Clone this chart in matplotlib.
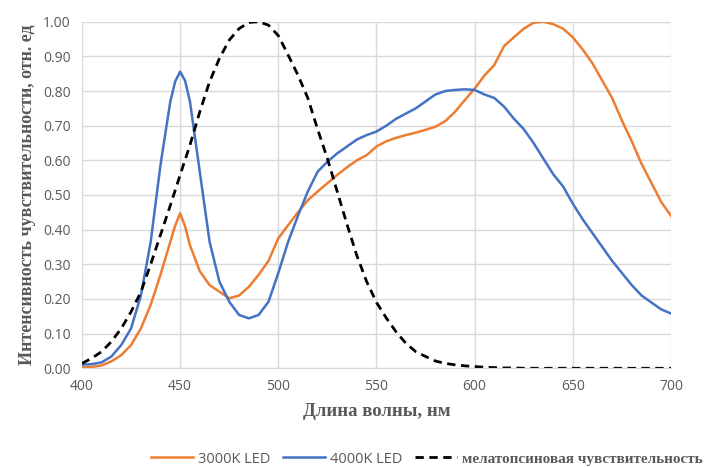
import matplotlib.pyplot as plt

# wavelength grid, nm (extra points around the 450 nm peak)
wavelength = (list(range(400, 450, 5)) + [447.5, 450, 452.5]
              + list(range(455, 705, 5)))
wavelength = sorted(wavelength)

# 3000K LED spectrum (relative)
led_3000k = [
    0.002, 0.004, 0.008, 0.02, 0.038, 0.067, 0.115, 0.183, 0.27, 0.365,
    0.412, 0.447, 0.41, 0.355, 0.28, 0.24, 0.221, 0.202, 0.21, 0.235, 0.27, 0.31,
    0.375, 0.413, 0.45, 0.485, 0.51, 0.534, 0.558, 0.58, 0.60, 0.615,
    0.64, 0.655, 0.665, 0.673, 0.68, 0.688, 0.697, 0.713, 0.74, 0.774,
    0.807, 0.845, 0.875, 0.93, 0.955, 0.98, 0.997, 1.0, 0.993, 0.98,
    0.955, 0.92, 0.88, 0.83, 0.78, 0.715, 0.655, 0.59, 0.535, 0.48,
    0.44,
]

# 4000K LED spectrum (relative)
led_4000k = [
    0.01, 0.012, 0.017, 0.034, 0.067, 0.115, 0.21, 0.365, 0.587, 0.77,
    0.828, 0.856, 0.83, 0.77, 0.567, 0.365, 0.25, 0.192, 0.154, 0.144, 0.154, 0.192,
    0.275, 0.365, 0.44, 0.51, 0.567, 0.596, 0.62, 0.64, 0.66, 0.673,
    0.683, 0.70, 0.72, 0.735, 0.75, 0.77, 0.79, 0.80, 0.803, 0.805,
    0.803, 0.79, 0.78, 0.755, 0.72, 0.69, 0.65, 0.605, 0.56, 0.525,
    0.475, 0.43, 0.39, 0.35, 0.31, 0.275, 0.24, 0.21, 0.19, 0.17,
    0.158,
]

# melanopsin sensitivity (relative)
melanopsin = [
    0.014, 0.029, 0.048, 0.077, 0.115, 0.163, 0.22, 0.30, 0.385, 0.47,
    0.514, 0.558, 0.601, 0.644, 0.74, 0.827, 0.894, 0.947, 0.98, 0.998, 1.0, 0.99,
    0.96, 0.904, 0.846, 0.78, 0.69, 0.605, 0.51, 0.415, 0.325, 0.25,
    0.19, 0.145, 0.105, 0.072, 0.048, 0.034, 0.021, 0.014, 0.01, 0.007,
    0.005, 0.003, 0.002, 0.001, 0.001, 0.0, 0.0, 0.0, 0.0, 0.0,
    0.0, 0.0, 0.0, 0.0, 0.0, 0.0, 0.0, 0.0, 0.0, 0.0,
    0.0,
]

x_ticks = [400, 450, 500, 550, 600, 650, 700]
y_ticks = [0.0, 0.1, 0.2, 0.3, 0.4, 0.5, 0.6, 0.7, 0.8, 0.9, 1.0]

GRAY = "#595959"
GRID = "#d9d9d9"

fig = plt.figure(figsize=(7.28, 4.67), dpi=100)
ax = fig.add_axes([0.1126, 0.2114, 0.8091, 0.7421])

ax.plot(wavelength, led_3000k, color="#ED7D31", linewidth=1.8, label="3000K LED",
        solid_joinstyle="round")
ax.plot(wavelength, led_4000k, color="#4472C4", linewidth=1.8, label="4000K LED",
        solid_joinstyle="round")
ax.plot(wavelength, melanopsin, color="black", linewidth=2.0,
        linestyle=(0, (3.0, 2.0)), label="мелатопсиновая чувствительность")

ax.set_xlim(400, 700)
ax.set_ylim(0, 1.0)
ax.set_xticks(x_ticks)
ax.set_yticks(y_ticks)
ax.set_yticklabels([f"{v:.2f}" for v in y_ticks])
ax.grid(True, color=GRID, linewidth=1.0)
ax.set_axisbelow(True)
for side in ["top", "right", "left"]:
    ax.spines[side].set_visible(False)
ax.spines["bottom"].set_color(GRID)
ax.tick_params(length=0, colors=GRAY, labelsize=10, pad=8)
for lbl in ax.get_xticklabels() + ax.get_yticklabels():
    lbl.set_family("Open Sans")

ax.set_xlabel("Длина волны, нм", family="Liberation Serif", fontweight="bold",
              fontsize=13.5, color=GRAY, labelpad=6)
ax.set_ylabel("Интенсивность чувствительности, отн. ед", family="Liberation Serif",
              fontweight="bold", fontsize=13, color=GRAY, labelpad=5)

leg = fig.legend(loc="center", bbox_to_anchor=(0.586, 0.017), ncol=3,
                 frameon=False, fontsize=11, handlelength=2.8, columnspacing=0.8,
                 handletextpad=0.3, borderpad=0.1)
texts = leg.get_texts()
for t in texts[:2]:
    t.set_family("Open Sans")
    t.set_color(GRAY)
    t.set_fontsize(10.5)
texts[2].set_family("Liberation Serif")
texts[2].set_fontweight("bold")
texts[2].set_color(GRAY)

fig.savefig("out.png", dpi=100)
